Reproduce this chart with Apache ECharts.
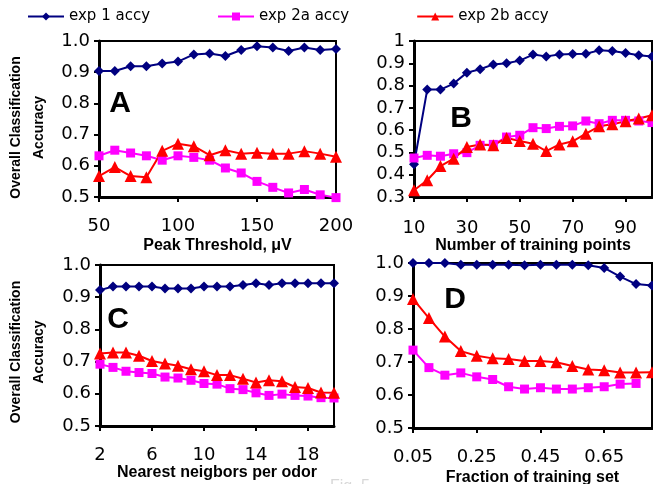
<!DOCTYPE html>
<html>
<head>
<meta charset="utf-8">
<script src="https://cdn.jsdelivr.net/npm/echarts@6/dist/echarts.min.js"></script>
<style>
  html, body { margin: 0; padding: 0; background: #fff; }
  #chart { width: 653px; height: 484px; }
</style>
</head>
<body>
<div id="chart"></div>
<script>
// 各面板数据
const seriesNames = ['exp 1 accy', 'exp 2a accy', 'exp 2b accy'];

// A: Peak Threshold
const thresholds = [50, 60, 70, 80, 90, 100, 110, 120, 130, 140, 150, 160, 170, 180, 190, 200];
const accA1 = [0.904, 0.904, 0.919, 0.919, 0.928, 0.934, 0.957, 0.960, 0.952, 0.971, 0.983, 0.979, 0.968, 0.979, 0.971, 0.974];
const accA2a = [0.632, 0.650, 0.641, 0.632, 0.618, 0.632, 0.627, 0.618, 0.593, 0.577, 0.550, 0.531, 0.513, 0.524, 0.507, 0.498];
const accA2b = [0.567, 0.596, 0.567, 0.563, 0.648, 0.671, 0.663, 0.634, 0.650, 0.639, 0.642, 0.639, 0.639, 0.647, 0.639, 0.629];

// B: Number of training points
const trainPts = [10, 15, 20, 25, 30, 35, 40, 45, 50, 55, 60, 65, 70, 75, 80, 85, 90, 95, 100];
const accB1 = [0.447, 0.782, 0.782, 0.809, 0.858, 0.873, 0.895, 0.900, 0.912, 0.939, 0.931, 0.939, 0.942, 0.943, 0.958, 0.955, 0.946, 0.936, 0.930];
const accB2a = [0.475, 0.487, 0.483, 0.494, 0.499, 0.532, 0.536, 0.569, 0.577, 0.611, 0.607, 0.617, 0.619, 0.641, 0.629, 0.644, 0.644, 0.641, 0.634];
const accB2b = [0.330, 0.375, 0.439, 0.472, 0.524, 0.536, 0.532, 0.565, 0.551, 0.539, 0.506, 0.536, 0.550, 0.584, 0.617, 0.626, 0.640, 0.652, 0.667];

// C: Nearest neighbors per odor
const neighbors = [2, 3, 4, 5, 6, 7, 8, 9, 10, 11, 12, 13, 14, 15, 16, 17, 18, 19, 20];
const accC1 = [0.922, 0.933, 0.933, 0.933, 0.933, 0.927, 0.927, 0.927, 0.933, 0.933, 0.933, 0.938, 0.943, 0.938, 0.943, 0.943, 0.943, 0.943, 0.943];
const accC2a = [0.692, 0.682, 0.670, 0.666, 0.663, 0.652, 0.649, 0.642, 0.632, 0.630, 0.616, 0.613, 0.603, 0.595, 0.599, 0.595, 0.593, 0.588, 0.587];
const accC2b = [0.725, 0.728, 0.728, 0.718, 0.702, 0.694, 0.687, 0.676, 0.670, 0.658, 0.658, 0.647, 0.635, 0.642, 0.639, 0.621, 0.618, 0.604, 0.603];

// D: Fraction of training set
const fractions = [0.05, 0.10, 0.15, 0.20, 0.25, 0.30, 0.35, 0.40, 0.45, 0.50, 0.55, 0.60, 0.65, 0.70, 0.75, 0.80];
const accD1 = [1.0, 1.0, 1.0, 0.995, 0.995, 0.995, 0.995, 0.993, 0.995, 0.995, 0.995, 0.993, 0.985, 0.959, 0.936, 0.932];
const accD2a = [0.736, 0.683, 0.660, 0.667, 0.655, 0.647, 0.625, 0.618, 0.622, 0.618, 0.618, 0.622, 0.625, 0.633, 0.635];
const accD2b = [0.891, 0.833, 0.777, 0.733, 0.719, 0.711, 0.709, 0.703, 0.703, 0.699, 0.688, 0.677, 0.675, 0.668, 0.668, 0.669];

const styles = {
    'exp 1 accy': { color: '#000080', symbol: 'diamond', size: 10 },
    'exp 2a accy': { color: '#ff00ff', symbol: 'rect', size: 9 },
    'exp 2b accy': { color: '#ff0000', symbol: 'triangle', size: 12 }
};

const tickFont = { fontFamily: 'DejaVu Sans', fontSize: 18, color: '#000' };
const nameFont = { fontFamily: 'Liberation Sans', fontSize: 16, fontWeight: 'bold', color: '#000' };

function makeSeries(name, xs, ys, idx) {
    const s = styles[name];
    return {
        name: name,
        type: 'line',
        xAxisIndex: idx,
        yAxisIndex: idx,
        data: ys.map((y, i) => [xs[i], y]),
        symbol: s.symbol,
        symbolSize: s.size,
        showSymbol: true,
        clip: false,
        lineStyle: { color: s.color, width: 2 },
        itemStyle: { color: s.color },
        z: 3
    };
}

function makeGrid(left, top, width, height) {
    return {
        left: left, top: top, width: width, height: height,
        show: true, borderColor: '#000', borderWidth: 2,
        backgroundColor: 'transparent',
        containLabel: false,
        outerBoundsMode: 'none'
    };
}

// showMax: 只有 A 面板的最大值落在刻度上
function makeX(idx, min, max, interval, name, gap, margin, showMax, fmt) {
    return {
        type: 'value', gridIndex: idx, min: min, max: max, interval: interval,
        name: name, nameLocation: 'middle', nameGap: gap, nameTextStyle: nameFont,
        axisLine: { show: true, lineStyle: { color: '#000', width: 3 } },
        axisTick: { show: true, length: 5, lineStyle: { color: '#000', width: 2 } },
        axisLabel: Object.assign({ margin: margin, formatter: fmt, showMaxLabel: showMax }, tickFont),
        splitLine: { show: false }
    };
}

function makeY(idx, min, fmt) {
    return {
        type: 'value', gridIndex: idx, min: min, max: 1.0, interval: 0.1,
        axisLine: { show: true, lineStyle: { color: '#000', width: 3 } },
        axisTick: { show: true, length: 5, lineStyle: { color: '#000', width: 2 } },
        axisLabel: Object.assign({ margin: 9, formatter: fmt }, tickFont),
        splitLine: { show: false }
    };
}

const fix1 = v => v.toFixed(1);
const plain1 = v => String(parseFloat(v.toFixed(1)));
const fix2 = v => v.toFixed(2);
const intFmt = v => String(Math.round(v));

const chart = echarts.init(document.getElementById('chart'), null, { renderer: 'canvas' });

const yTitle = 'Overall Classification\nAccuracy';
const titleStyle = { font: 'bold 14px "Liberation Sans"', fill: '#000', align: 'center', verticalAlign: 'middle', lineHeight: 23 };
const letterStyle = (t) => ({ text: t, font: 'bold 30px "Liberation Sans"', fill: '#000', align: 'center', verticalAlign: 'middle' });

const option = {
    animation: false,
    backgroundColor: '#fff',
    legend: {
        left: 27, top: 9, padding: 0,
        itemWidth: 36, itemHeight: 10, itemGap: 67,
        data: seriesNames,
        textStyle: { fontFamily: 'DejaVu Sans', fontSize: 15, color: '#000' }
    },
    grid: [
        makeGrid(99, 41, 237, 156),
        makeGrid(414, 41, 238, 156),
        makeGrid(100, 265, 234, 161),
        makeGrid(413, 263, 239, 165)
    ],
    xAxis: [
        makeX(0, 50, 200, 50, 'Peak Threshold, \u03bcV', 41, 20, true, intFmt),
        makeX(1, 10, 100, 20, 'Number of training points', 41, 22, false, intFmt),
        makeX(2, 2, 20, 4, 'Nearest neigbors per odor', 38, 20, false, intFmt),
        makeX(3, 0.05, 0.8, 0.2, 'Fraction of training set', 42, 20, false, fix2)
    ],
    yAxis: [
        makeY(0, 0.5, fix1),
        makeY(1, 0.3, plain1),
        makeY(2, 0.5, fix1),
        makeY(3, 0.5, fix1)
    ],
    graphic: [
        { type: 'text', x: 27.5, y: 127.5, rotation: Math.PI / 2, style: Object.assign({ text: yTitle }, titleStyle) },
        { type: 'text', x: 27.5, y: 352, rotation: Math.PI / 2, style: Object.assign({ text: yTitle }, titleStyle) },
        { type: 'text', x: 120, y: 104, style: letterStyle('A') },
        { type: 'text', x: 461, y: 119, style: letterStyle('B') },
        { type: 'text', x: 118, y: 320, style: letterStyle('C') },
        { type: 'text', x: 455, y: 300, style: letterStyle('D') },
        { type: 'text', x: 330, y: 479, style: { text: 'Fig. 5', font: '16px "Liberation Sans"', fill: '#d8d8d8', verticalAlign: 'top' } }
    ],
    series: [
        makeSeries(seriesNames[0], thresholds, accA1, 0),
        makeSeries(seriesNames[1], thresholds, accA2a, 0),
        makeSeries(seriesNames[2], thresholds, accA2b, 0),
        makeSeries(seriesNames[0], trainPts, accB1, 1),
        makeSeries(seriesNames[1], trainPts, accB2a, 1),
        makeSeries(seriesNames[2], trainPts, accB2b, 1),
        makeSeries(seriesNames[0], neighbors, accC1, 2),
        makeSeries(seriesNames[1], neighbors, accC2a, 2),
        makeSeries(seriesNames[2], neighbors, accC2b, 2),
        makeSeries(seriesNames[0], fractions, accD1, 3),
        makeSeries(seriesNames[1], fractions.slice(0, accD2a.length), accD2a, 3),
        makeSeries(seriesNames[2], fractions, accD2b, 3)
    ]
};

chart.setOption(option);
</script>
</body>
</html>
